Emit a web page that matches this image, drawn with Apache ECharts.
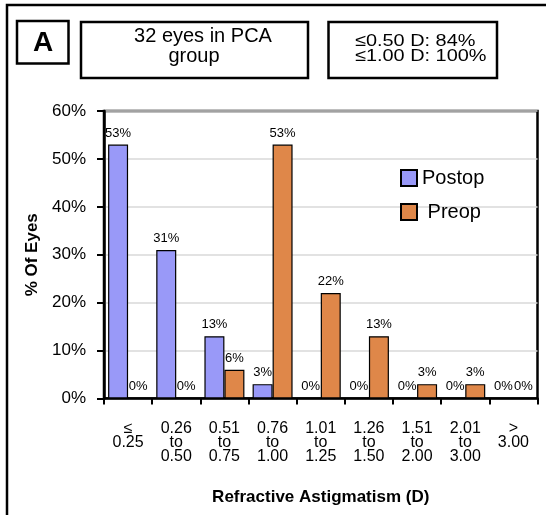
<!DOCTYPE html>
<html>
<head>
<meta charset="utf-8">
<script src="https://cdn.jsdelivr.net/npm/echarts@6/dist/echarts.min.js"></script>
<style>
  html, body { margin: 0; padding: 0; background: #fff; }
  #chart { width: 546px; height: 515px; }
</style>
</head>
<body>
<div id="chart"></div>
<script>
// Refractive astigmatism distribution, PCA group
const categories = ['≤\n0.25', '0.26\nto\n0.50', '0.51\nto\n0.75', '0.76\nto\n1.00',
  '1.01\nto\n1.25', '1.26\nto\n1.50', '1.51\nto\n2.00', '2.01\nto\n3.00', '>\n3.00'];
const postopPct = [53, 31, 13, 3, 0, 0, 0, 0, 0];
const preopPct = [0, 0, 6, 53, 22, 13, 3, 3, 0];
const seriesNames = ['Postop', 'Preop'];
const panelLetter = 'A';
const groupNote = ['32 eyes in PCA', 'group'];
const summaryNote = ['≤0.50 D: 84%', '≤1.00 D: 100%'];

const FONT = '"Liberation Sans", Arial, Helvetica, sans-serif';
const chart = echarts.init(document.getElementById('chart'), null, { renderer: 'canvas' });

function txt(x, y, text, size, opts) {
  opts = opts || {};
  return {
    type: 'text', x: x, y: y, scaleX: opts.scaleX || 1, z: 10,
    style: {
      text: text, fill: '#000',
      font: (opts.bold ? 'bold ' : '') + size + 'px ' + FONT,
      align: opts.align || 'center', verticalAlign: 'middle',
      textAlign: opts.align || 'center', textVerticalAlign: 'middle'
    }
  };
}
function box(x, y, w, h) {
  return { type: 'rect', z: 5, shape: { x: x, y: y, width: w, height: h },
    style: { fill: 'none', stroke: '#000', lineWidth: 2.5 } };
}

const barLabel = {
  show: true, position: 'top', distance: 5,
  formatter: p => p.value + '%',
  fontFamily: FONT, fontSize: 13, color: '#000'
};

chart.setOption({
  backgroundColor: '#fff',
  animation: false,
  textStyle: { fontFamily: FONT },
  grid: {
    left: 104, right: 8.5, top: 111, bottom: 116.5,
    show: true, borderColor: '#000', borderWidth: 2.5
  },
  legend: {
    orient: 'vertical', left: 400, top: 168, padding: 0,
    icon: 'rect',
    itemWidth: 16, itemHeight: 16, itemGap: 14,
    data: seriesNames,
    formatter: n => (n === 'Preop' ? ' ' + n : n),
    textStyle: { fontFamily: FONT, fontSize: 20, color: '#000' }
  },
  xAxis: {
    type: 'category',
    data: categories,
    name: 'Refractive Astigmatism (D)',
    nameLocation: 'middle',
    nameGap: 90,
    nameTextStyle: { fontFamily: FONT, fontSize: 17, fontWeight: 'bold', color: '#000' },
    axisLine: { lineStyle: { color: '#000', width: 2.5 } },
    axisTick: { show: true, length: 6, lineStyle: { color: '#000', width: 2 } },
    axisLabel: {
      interval: 0, margin: 23, fontFamily: FONT, fontSize: 16, lineHeight: 14,
      color: '#000', align: 'center'
    },
    splitLine: { show: false }
  },
  yAxis: {
    type: 'value', min: 0, max: 60, interval: 10,
    name: '% Of Eyes',
    nameLocation: 'middle',
    nameGap: 62,
    nameRotate: 90,
    nameTextStyle: { fontFamily: FONT, fontSize: 17, fontWeight: 'bold', color: '#000' },
    axisLine: { show: true, lineStyle: { color: '#000', width: 2.5 } },
    axisTick: { show: true, length: 7, lineStyle: { color: '#000', width: 2 } },
    axisLabel: { formatter: '{value}%', margin: 18, fontFamily: FONT, fontSize: 17, color: '#000' },
    splitLine: { show: true, lineStyle: { color: '#d9d9d9', width: 1.5 } }
  },
  series: [
    {
      name: seriesNames[0], type: 'bar', data: postopPct,
      barWidth: 20, barGap: '0%',
      itemStyle: { color: '#9999f8', borderColor: '#000', borderWidth: 1.2 },
      label: barLabel
    },
    {
      name: seriesNames[1], type: 'bar', data: preopPct,
      barWidth: 20, barGap: '0%',
      itemStyle: { color: '#df8749', borderColor: '#000', borderWidth: 1.2 },
      label: barLabel
    }
  ],
  graphic: [
    // outer panel frame running off the page edges
    box(7, 5, 620, 600),
    box(17, 21, 51.5, 42.5),
    txt(43, 43, panelLetter, 28, { bold: true }),
    box(81, 22, 227, 56),
    txt(203, 36.5, groupNote[0], 20),
    txt(194, 56.5, groupNote[1], 20),
    box(328.5, 22, 168.5, 56),
    txt(355, 41.7, summaryNote[0], 17, { align: 'left', scaleX: 1.17 }),
    txt(355, 56.7, summaryNote[1], 17, { align: 'left', scaleX: 1.17 })
  ]
});
</script>
</body>
</html>
